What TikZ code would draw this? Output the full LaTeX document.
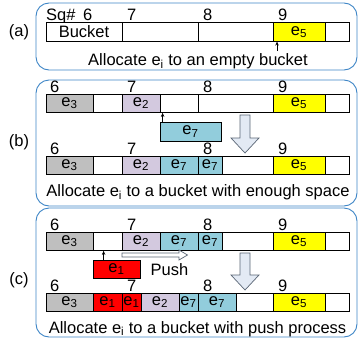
\documentclass[tikz,border=0pt]{standalone}
\usepackage{fontspec}
\setmainfont{Liberation Sans}
\usetikzlibrary{arrows.meta}
\definecolor{cgray}{HTML}{BFBFBF}
\definecolor{clav}{HTML}{D3C9DF}
\definecolor{ccyan}{HTML}{92CDDC}
\definecolor{cyel}{HTML}{FFFF00}
\definecolor{cred}{HTML}{FF0000}
\definecolor{cframe}{HTML}{3D85C6}
\definecolor{carrfill}{HTML}{E3EAF4}
\definecolor{carrline}{HTML}{5A6675}
\newcommand{\bcell}[6]{%
  \pgfmathsetmacro\cw{#3-#2}\pgfmathsetmacro\cx{(#2+#3)/2}\pgfmathsetmacro\cy{#4+9.25}%
  \node[cellbox,fill=#5,minimum width=\cw pt] (#1) at (\cx,\cy) {#6};}
\begin{document}
\begin{tikzpicture}[x=1pt,y=-1pt,
  every node/.style={font=\fontsize{16.5}{18}\selectfont},
  cellbox/.style={draw=black,line width=0.8pt,minimum height=18.5pt,inner sep=0pt,anchor=center},
  numlbl/.style={anchor=base west,inner sep=0pt},
  frame/.style={draw=cframe,line width=0.9pt,rounded corners=13pt},
  bigarrow/.style={draw=carrline,fill=carrfill,line width=0.7pt,line join=miter},
  pusharrow/.style={draw=carrline,fill=white,line width=0.7pt},
  ptr/.style={-{Stealth[length=4pt,width=3.5pt]},line width=0.7pt},
  plabel/.style={anchor=center,inner sep=0pt}]
\useasboundingbox (0,0) rectangle (358,343);
% frames
\draw[frame] (36,3) rectangle (357,70);
\draw[frame] (36,80) rectangle (357,206);
\draw[frame] (36,208) rectangle (357,337);
% panel labels
\node[plabel] (la) at (19,32) {(a)};
\node[plabel] (lb) at (19,142) {(b)};
\node[plabel] (lc) at (19,280) {(c)};
% ---------- (a)
\node[numlbl] (sqa) at (46,20.5) {Sq\#};
\node[numlbl] (a6n) at (83,20.5) {6};
\node[numlbl] (a7n) at (127,20.5) {7};
\node[numlbl] (a8n) at (203,20.5) {8};
\node[numlbl] (a9n) at (278,20.5) {9};
\bcell{a1}{46}{122}{22.7}{white}{Bucket}
\bcell{a2}{122}{198}{22.7}{white}{}
\bcell{a3}{198}{273}{22.7}{white}{}
\bcell{a4}{273}{325}{22.7}{cyel}{e\textsubscript{5}}
\bcell{a5}{325}{349}{22.7}{white}{}
\coordinate (aptr) at (277,50.5);
\draw[ptr] (aptr) -- (aptr |- a4.south);
\node[anchor=base] (ta) at (198,65.5) {Allocate e\textsubscript{i} to an empty bucket};
% ---------- (b) row 1
\node[numlbl] (b6n) at (50,92.6) {6};
\node[numlbl] (b7n) at (127,92.6) {7};
\node[numlbl] (b8n) at (203,92.6) {8};
\node[numlbl] (b9n) at (278,92.6) {9};
\bcell{b1}{46}{93}{94}{cgray}{e\textsubscript{3}}
\bcell{b2}{93}{122}{94}{white}{}
\bcell{b3}{122}{160}{94}{clav}{e\textsubscript{2}}
\bcell{b4}{160}{198}{94}{white}{}
\bcell{b5}{198}{273}{94}{white}{}
\bcell{b6}{273}{325}{94}{cyel}{e\textsubscript{5}}
\bcell{b7}{325}{349}{94}{white}{}
\bcell{be7}{160}{221}{122.5}{ccyan}{e\textsubscript{7}}
\draw[ptr] ([xshift=3pt]be7.north west) -- ([xshift=3pt]b4.south west);
\draw[bigarrow] (240,115) -- (250,115) -- (250,138) -- (259,138) -- (245,153) -- (231,138) -- (240,138) -- cycle;
% (b) row 2
\node[numlbl] (b6m) at (50,154.6) {6};
\node[numlbl] (b7m) at (127,154.6) {7};
\node[numlbl] (b8m) at (203,154.6) {8};
\node[numlbl] (b9m) at (278,154.6) {9};
\bcell{bb1}{46}{93}{156}{cgray}{e\textsubscript{3}}
\bcell{bb2}{93}{122}{156}{white}{}
\bcell{bb3}{122}{160}{156}{clav}{e\textsubscript{2}}
\bcell{bb4}{160}{198}{156}{ccyan}{e\textsubscript{7}}
\bcell{bb5}{198}{222}{156}{ccyan}{e\textsubscript{7}}
\bcell{bb6}{222}{273}{156}{white}{}
\bcell{bb7}{273}{325}{156}{cyel}{e\textsubscript{5}}
\bcell{bb8}{325}{349}{156}{white}{}
\node[anchor=base] (tb) at (198,196.5) {Allocate e\textsubscript{i} to a bucket with enough space};
% ---------- (c) row 1
\node[numlbl] (c6n) at (50,230.6) {6};
\node[numlbl] (c7n) at (127,230.6) {7};
\node[numlbl] (c8n) at (203,230.6) {8};
\node[numlbl] (c9n) at (278,230.6) {9};
\bcell{c1}{46}{93}{232}{cgray}{e\textsubscript{3}}
\bcell{c2}{93}{122}{232}{white}{}
\bcell{c3}{122}{160}{232}{clav}{e\textsubscript{2}}
\bcell{c4}{160}{198}{232}{ccyan}{e\textsubscript{7}}
\bcell{c5}{198}{222}{232}{ccyan}{e\textsubscript{7}}
\bcell{c6}{222}{273}{232}{white}{}
\bcell{c7}{273}{325}{232}{cyel}{e\textsubscript{5}}
\bcell{c8}{325}{349}{232}{white}{}
\bcell{ce1}{93}{140}{260}{cred}{e\textsubscript{1}}
\draw[ptr] ([xshift=11pt]ce1.north west) -- ([xshift=11pt]c2.south west);
\draw[pusharrow] (122,253) -- (179,253) -- (179,250) -- (187.5,255) -- (179,260) -- (179,257) -- (122,257) -- cycle;
\node[anchor=base] (push) at (169.5,275.5) {Push};
\draw[bigarrow] (240,253) -- (250,253) -- (250,275) -- (259,275) -- (245,290) -- (231,275) -- (240,275) -- cycle;
% (c) row 2
\node[numlbl] (c6m) at (50,291.6) {6};
\node[numlbl] (c7m) at (127,291.6) {7};
\node[numlbl] (c8m) at (203,291.6) {8};
\node[numlbl] (c9m) at (278,291.6) {9};
\bcell{cc1}{46}{93}{293}{cgray}{e\textsubscript{3}}
\bcell{cc2}{93}{122}{293}{cred}{e\textsubscript{1}}
\bcell{cc3}{122}{141}{293}{cred}{e\textsubscript{1}}
\bcell{cc4}{141}{179}{293}{clav}{e\textsubscript{2}}
\bcell{cc5}{179}{198}{293}{ccyan}{e\textsubscript{7}}
\bcell{cc6}{198}{236}{293}{ccyan}{e\textsubscript{7}}
\bcell{cc7}{236}{273}{293}{white}{}
\bcell{cc8}{273}{325}{293}{cyel}{e\textsubscript{5}}
\bcell{cc9}{325}{349}{293}{white}{}
\node[anchor=base] (tc) at (197.5,333) {Allocate e\textsubscript{i} to a bucket with push process};
\end{tikzpicture}
\end{document}
